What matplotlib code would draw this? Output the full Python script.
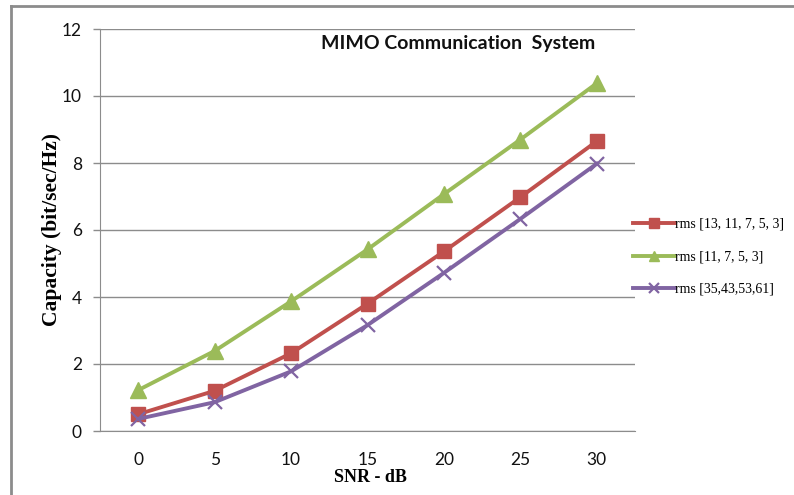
import matplotlib
matplotlib.use("Agg")
import matplotlib.pyplot as plt
from matplotlib.lines import Line2D

snr = [0, 5, 10, 15, 20, 25, 30]
cap_13_11_7_5_3 = [0.50, 1.20, 2.32, 3.80, 5.36, 6.98, 8.65]
cap_11_7_5_3 = [1.22, 2.39, 3.87, 5.42, 7.07, 8.70, 10.38]
cap_35_43_53_61 = [0.36, 0.86, 1.78, 3.16, 4.72, 6.33, 7.98]
labels = ["rms [13, 11, 7, 5, 3]", "rms [11, 7, 5, 3]", "rms [35,43,53,61]"]
yticks = [0, 2, 4, 6, 8, 10, 12]

W, H = 794, 495
fig = plt.figure(figsize=(W / 100, H / 100), dpi=100)
ax = fig.add_axes([100 / W, 1 - 431 / H, (635 - 100) / W, (431 - 29) / H])

red, green, purple = "#C0504D", "#9BBB59", "#8064A2"
ax.plot(snr, cap_13_11_7_5_3, color=red, lw=2.8, marker="s", ms=10, mfc=red, mec=red, label=labels[0], zorder=3)
ax.plot(snr, cap_11_7_5_3, color=green, lw=2.8, marker="^", ms=11, mfc=green, mec=green, label=labels[1], zorder=3)
ax.plot(snr, cap_35_43_53_61, color=purple, lw=2.8, marker="x", ms=10, mew=1.6, mec=purple, label=labels[2], zorder=3)

ax.set_xlim(-2.5, 32.5)
ax.set_ylim(0, 12)
ax.set_xticks(snr)
ax.set_xticklabels([str(v) for v in snr])
ax.set_yticks(yticks)
ax.yaxis.grid(True, color="#8C8C8C", lw=1.0)
ax.set_axisbelow(True)
for s in ["top", "right"]:
    ax.spines[s].set_visible(False)
ax.spines["left"].set_color("#8C8C8C")
ax.spines["bottom"].set_color("#8C8C8C")
ax.tick_params(axis="x", length=0, pad=15, labelsize=12.5, labelcolor="#111111")
ax.tick_params(axis="y", length=5, width=1, color="#8C8C8C", pad=8, labelsize=12.5, labelcolor="#111111")
for t in ax.get_xticklabels() + ax.get_yticklabels():
    t.set_fontfamily("Lato")

fig.text(52 / W, 1 - 229 / H, "Capacity (bit/sec/Hz)", rotation=90, ha="center", va="center",
         fontfamily="Liberation Serif", fontweight="bold", fontsize=15.5)
fig.text(370 / W, 1 - 477 / H, "SNR - dB", ha="center", va="center",
         fontfamily="Liberation Serif", fontweight="bold", fontsize=13)
fig.text(458 / W, 1 - 44 / H, "MIMO Communication  System", ha="center", va="center",
         fontfamily="Lato", fontweight="bold", fontsize=14, color="#111111")

leg = fig.legend(loc="upper left", bbox_to_anchor=(633 / W, 1 - 218 / H), frameon=False,
                 prop={"family": "Liberation Serif", "size": 10}, handlelength=3.0,
                 handletextpad=0.05, labelspacing=1.4, borderaxespad=0, borderpad=0)
for h in leg.legend_handles:
    h.set_markersize(7)

# outer chart frame
fig.add_artist(Line2D([11 / W, 1], [1 - 6 / H, 1 - 6 / H], color="#8C8C8C", lw=2, transform=fig.transFigure))
fig.add_artist(Line2D([11 / W, 11 / W], [1 - 6 / H, 0], color="#8C8C8C", lw=2, transform=fig.transFigure))

fig.savefig("out.png", dpi=100)
